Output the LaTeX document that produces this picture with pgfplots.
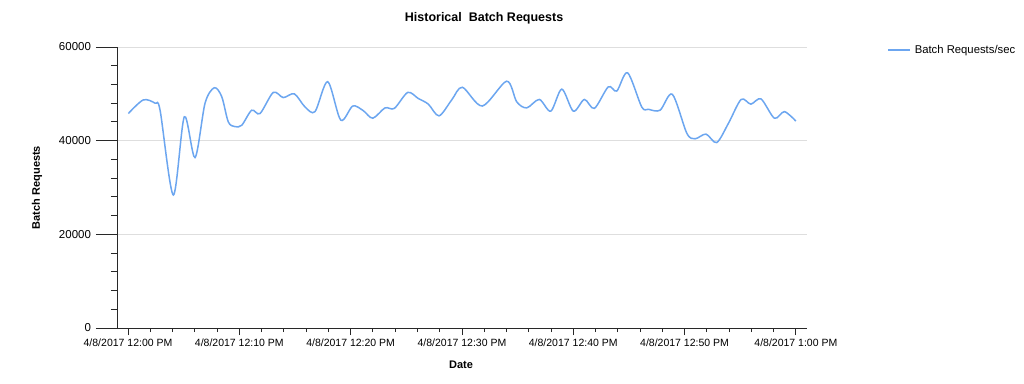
\documentclass[border=0pt]{standalone}
\usepackage{pgfplots}
\pgfplotsset{compat=1.18}
\usepackage{fontspec}
\setmainfont{Liberation Sans}
\definecolor{linec}{RGB}{108,166,240}
\definecolor{gridc}{RGB}{222,222,222}
\definecolor{axc}{RGB}{40,40,40}
\begin{document}
\begin{tikzpicture}[x=1pt,y=1pt]
\fill[white] (0,0) rectangle (1024,383);
\useasboundingbox (0,0) rectangle (1024,383);
\begin{axis}[
  at={(117pt,55pt)}, anchor=south west,
  scale only axis, width=690pt, height=281pt,
  xmin=-0.99, xmax=61.0, ymin=0, ymax=60000,
  axis lines=left, axis line style={-, axc, line width=0.9pt},
  tick align=outside,
  major tick length=21pt, minor tick length=6pt,
  xtick style={axc, line width=0.9pt, /pgfplots/major tick length=7pt, /pgfplots/minor tick length=4pt},
  ytick style={axc, line width=0.9pt},
  xtick={0,10,20,30,40,50,60},
  xticklabels={4/8/2017 12:00 PM,4/8/2017 12:10 PM,4/8/2017 12:20 PM,4/8/2017 12:30 PM,4/8/2017 12:40 PM,4/8/2017 12:50 PM,4/8/2017 1:00 PM},
  minor x tick num=4,
  ytick={0,20000,40000,60000},
  minor y tick num=4,
  scaled y ticks=false,
  yticklabel={\pgfmathprintnumber[fixed,1000 sep={}]{\tick}},
  /pgf/number format/assume math mode=true,
  xticklabel style={font=\fontsize{10.5}{12}\selectfont, text=black, yshift=14pt},
  yticklabel style={font=\fontsize{11.5}{13}\selectfont, text=black, xshift=-1.5pt},
  ymajorgrids, grid style={gridc, line width=0.9pt},
  title={Historical\ \ Batch Requests},
  title style={at={(axis description cs:0.532,1.082)}, anchor=center, font=\fontsize{12.5}{14}\selectfont\bfseries},
  xlabel={Date},
  xlabel style={at={(axis description cs:0.4986,-0.1317)}, anchor=center, font=\fontsize{11}{13}\selectfont\bfseries},
  ylabel={Batch Requests},
  ylabel style={at={(axis description cs:-0.116,0.5)}, anchor=center, rotate=0, font=\fontsize{11}{13}\selectfont\bfseries},
  legend style={at={(axis description cs:1.116,0.989)}, anchor=west, draw=none, fill=none, inner sep=0pt,
    font=\fontsize{11.3}{13}\selectfont},
  legend image code/.code={\draw[#1] (0pt,0pt) -- (22pt,0pt); \path (24pt,0pt);},
]
\addplot[linec, line width=1.5pt, smooth, tension=0.5] coordinates {
(0.03,45800) (1.37,48700) (2.43,48000) (2.88,46500) (4.07,28400) (5.06,45100)
(6.02,36400) (6.92,48000) (7.75,51300) (8.42,49400) (9.01,44000) (9.61,43000)
(10.22,43300) (11.11,46500) (11.86,45800) (13.05,50300) (13.95,49200) (14.94,50000)
(15.90,47200) (16.80,46200) (17.94,52600) (19.11,44400) (20.19,47400) (21.14,46400)
(21.99,44800) (23.09,47000) (23.93,46900) (25.13,50300) (26.08,49000) (26.98,47800)
(27.94,45300) (29.08,48700) (30.04,51400) (31.83,47400) (34.02,52700) (34.92,48300)
(35.82,47000) (36.95,48800) (37.98,46300) (38.97,51000) (40.01,46300) (41.00,48800)
(41.90,46900) (43.15,51500) (43.91,50600) (44.88,54500) (46.15,47200) (46.75,46700)
(47.80,46500) (48.90,49900) (50.20,41600) (50.94,40400) (51.93,41400) (52.89,39600)
(53.94,43700) (55.08,48800) (55.95,47800) (56.87,48900) (58.07,44800) (58.97,46200)
(59.99,44200)
};
\addlegendentry{Batch Requests/sec}
\end{axis}
\end{tikzpicture}
\end{document}
